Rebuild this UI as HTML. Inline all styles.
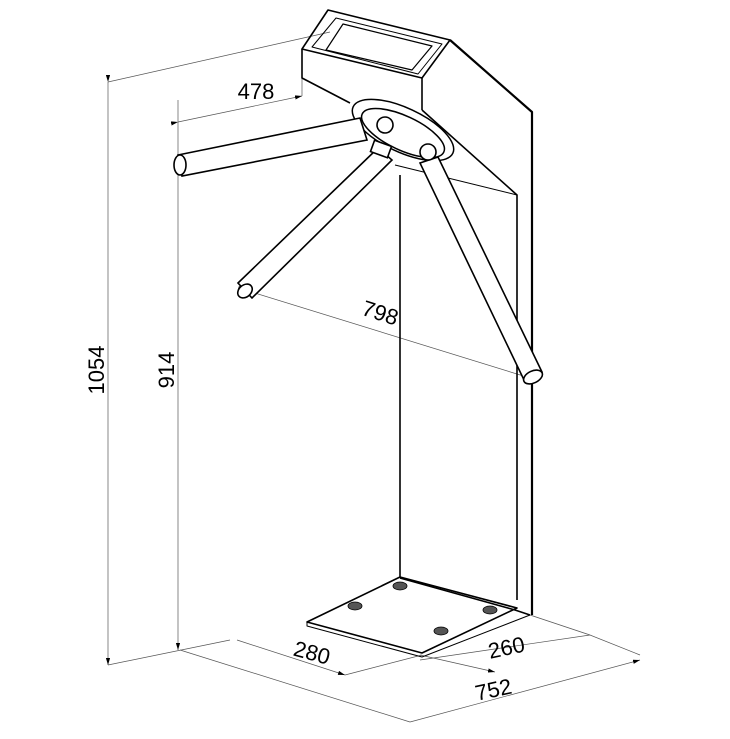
<!DOCTYPE html>
<html><head><style>html,body{margin:0;padding:0;background:#fff}svg{display:block}</style></head>
<body>
<svg width="730" height="739" viewBox="0 0 730 739" xmlns="http://www.w3.org/2000/svg" font-family="Liberation Sans, sans-serif">
<defs><marker id="a" markerWidth="10" markerHeight="6" refX="10" refY="3" orient="auto"><path d="M0,0 L10,3 L0,6 z" fill="#000"/></marker></defs>
<!-- dimension thin lines -->
<g stroke="#555" stroke-width="0.7" fill="none">
<line x1="108" y1="82" x2="330" y2="32"/>
<line x1="108" y1="665" x2="230" y2="640"/>
<line x1="108" y1="82" x2="108" y2="665" marker-start="url(#a)" marker-end="url(#a)"/>
<line x1="178" y1="100" x2="178" y2="650" marker-end="url(#a)"/>
<line x1="178" y1="122" x2="302" y2="96" marker-start="url(#a)" marker-end="url(#a)"/>
<line x1="302" y1="70" x2="302" y2="96"/>
<line x1="245" y1="290" x2="530" y2="378" marker-start="url(#a)" marker-end="url(#a)"/>
<line x1="180" y1="650" x2="410" y2="722"/>
<line x1="410" y1="722" x2="640" y2="660" marker-end="url(#a)"/>
<line x1="237" y1="640" x2="345" y2="675" marker-end="url(#a)"/>
<line x1="345" y1="675" x2="422" y2="655"/>
<line x1="420" y1="660" x2="590" y2="635"/>
<line x1="590" y1="635" x2="640" y2="655"/>
<line x1="420" y1="655" x2="495" y2="672" marker-end="url(#a)"/>
<line x1="530" y1="615" x2="590" y2="635"/>
</g>
<g fill="#000" font-size="22">
<text x="108" y="370" transform="rotate(-90 108 370)" text-anchor="middle" dy="-4">1054</text>
<text x="178" y="370" transform="rotate(-90 178 370)" text-anchor="middle" dy="-4">914</text>
<text x="256" y="99" text-anchor="middle">478</text>
<text x="378" y="320" transform="rotate(18 378 320)" text-anchor="middle">798</text>
<text x="310" y="660" transform="rotate(15 310 660)" text-anchor="middle">280</text>
<text x="508" y="655" transform="rotate(-12 508 655)" text-anchor="middle">260</text>
<text x="495" y="697" transform="rotate(-12 495 697)" text-anchor="middle">752</text>
</g>
<!-- body -->
<g stroke="#000" stroke-width="1.6" fill="none" stroke-linejoin="round">
<path d="M328,10 L450,40 L422,78 L302,49 Z"/>
<path d="M336,18 L442,44 L418,74 L312,47 Z" stroke-width="1"/>
<path d="M343,24 L432,46 L412,70 L326,50 Z" stroke-width="1.2"/>
<path d="M302,49 L302,78 L350,103"/>
<path d="M422,78 L422,110"/>
<path d="M450,40 L532,112 L532,615" stroke-width="2.2"/>
<path d="M422,110 L517,195 L517,600"/>
<path d="M400,175 L400,578"/>
<path d="M400,578 L515,610 L530,615"/>
<path d="M307,622 L400,577 L517,608 L422,653 Z"/>
<path d="M307,622 L307,626 L422,657 L530,615" stroke-width="1"/>
<path d="M395,165 L517,195" stroke-width="1"/>
</g>
<g fill="#555" stroke="#000" stroke-width="0.8">
<ellipse cx="355" cy="606" rx="7" ry="4"/><ellipse cx="400" cy="586" rx="7" ry="4"/>
<ellipse cx="490" cy="610" rx="7" ry="4"/><ellipse cx="441" cy="631" rx="7" ry="4"/>
</g>
<!-- hub -->
<g stroke="#000" stroke-width="1.5" fill="#fff">
<ellipse cx="403" cy="130" rx="55" ry="22" transform="rotate(25 403 130)"/>
<ellipse cx="403" cy="133" rx="45" ry="17" transform="rotate(25 403 133)"/>
</g>
<!-- arms -->
<g stroke="#000" stroke-width="1.6" fill="#fff">
<path d="M178,155 L360,118 L367,140 L182,176 Z"/>
<ellipse cx="180" cy="165" rx="6" ry="10"/>
<path d="M238,283 L378,148 L392,160 L252,298 Z"/>
<ellipse cx="245" cy="291" rx="8" ry="6" transform="rotate(-40 245 291)"/>
<path d="M420,163 L438,157 L542,372 L524,380 Z"/>
<ellipse cx="533" cy="377" rx="10" ry="6" transform="rotate(-25 533 377)"/>
<circle cx="385" cy="125" r="8"/><circle cx="428" cy="152" r="8"/>
<rect x="372" y="143" width="18" height="12" transform="rotate(20 381 149)"/>
</g>
</svg>
</body></html>
